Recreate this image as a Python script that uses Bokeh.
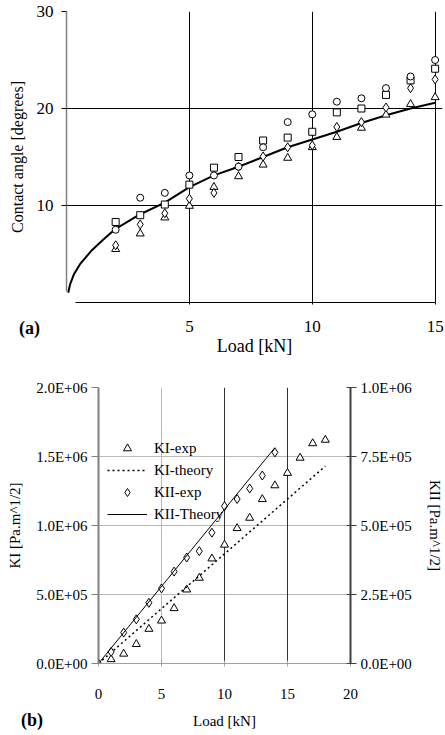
from bokeh.plotting import figure
from bokeh.models import Range1d, LinearAxis, FixedTicker, Legend, LegendItem, Grid, Div
from bokeh.embed import file_html
from bokeh.resources import INLINE

FONT = "Liberation Serif"

# ---------------- (a) contact angle data ----------------
load_a = [2, 3, 4, 5, 6, 7, 8, 9, 10, 11, 12, 13, 14, 15]
circle_a = [7.5, 10.8, 11.3, 13.1, 13.1, 14.0, 16.0, 18.6, 19.4, 20.7, 21.05, 22.1, 23.3, 25.0]
square_a = [8.3, 9.0, 10.1, 12.15, 13.9, 15.0, 16.7, 17.0, 17.6, 19.6, 20.0, 21.4, 22.9, 24.1]
diamond_a = [5.9, 8.05, 9.2, 10.7, 11.3, 14.0, 15.05, 16.0, 16.2, 18.1, 18.6, 20.1, 22.1, 23.0]
triangle_a = [5.5, 7.1, 8.75, 9.95, 11.9, 13.0, 14.2, 14.9, 16.0, 17.05, 18.0, 19.35, 20.45, 21.15]
theory_load_a = [0.07, 0.15, 0.3, 0.55, 1, 1.5, 2, 3, 4, 5, 6, 7, 8, 9, 10, 11, 12, 13, 14, 15]
theory_angle_a = [1.0, 1.9, 2.9, 3.95, 5.3, 6.5, 7.6, 9.1, 10.3, 11.9, 13.1, 14.0, 15.0, 16.0,
                  16.8, 17.6, 18.5, 19.3, 20.0, 20.6]
xticks_a = [5, 10, 15]
yticks_a = [10, 20, 30]

# ---------------- (b) stress intensity data ----------------
ki_exp_load = [1, 2, 3, 4, 5, 6, 7, 8, 9, 10, 11, 12, 13, 14, 15, 16, 17, 18]
ki_exp = [3.0e4, 7.0e4, 1.4e5, 2.5e5, 3.1e5, 4.0e5, 5.35e5, 6.2e5, 7.6e5, 8.6e5, 9.8e5,
          1.055e6, 1.19e6, 1.29e6, 1.38e6, 1.49e6, 1.595e6, 1.62e6]
ki_theory_load = [0, 18]
ki_theory = [0, 1.43e6]
kii_exp_load = [0, 1, 2, 3, 4, 5, 6, 7, 8, 9, 10, 11, 12, 13, 14]
kii_exp = [0, 4.2e4, 1.12e5, 1.6e5, 2.2e5, 2.72e5, 3.33e5, 3.84e5, 4.07e5, 4.74e5, 5.7e5,
           5.96e5, 6.34e5, 6.81e5, 7.65e5]
kii_theory_load = [0, 14]
kii_theory = [0, 7.82e5]
xticks_b = [0, 5, 10, 15, 20]
left_ticks_b = [0, 5e5, 1e6, 1.5e6, 2e6]
left_labels_b = ["0.0E+00", "5.0E+05", "1.0E+06", "1.5E+06", "2.0E+06"]
right_ticks_b = [0, 2.5e5, 5e5, 7.5e5, 1e6]
right_labels_b = ["0.0E+00", "2.5E+05", "5.0E+05", "7.5E+05", "1.0E+06"]

# ================= figure (a) =================
pa = figure(width=445, height=362, output_backend="svg", toolbar_location=None,
            x_range=Range1d(0, 15.3), y_range=Range1d(0, 30),
            min_border_left=66, min_border_right=3, min_border_top=11, min_border_bottom=60)
pa.outline_line_color = None
pa.background_fill_color = "white"
pa.border_fill_color = "white"

for ax in (pa.xaxis[0], pa.yaxis[0]):
    ax.major_label_text_font = FONT
    ax.major_label_text_font_size = "17px"
    ax.axis_label_text_font = FONT
    ax.axis_label_text_font_style = "normal"
    ax.minor_tick_line_color = None
    ax.major_tick_line_color = "black"
    ax.major_label_text_color = "black"
    ax.axis_label_text_color = "black"

pa.xaxis.ticker = FixedTicker(ticks=xticks_a)
pa.yaxis.ticker = FixedTicker(ticks=yticks_a)
pa.xaxis.axis_label = "Load [kN]"
pa.yaxis.axis_label = "Contact angle [degrees]"
pa.xaxis.axis_label_text_font_size = "18px"
pa.yaxis.axis_label_text_font_size = "16px"
pa.xaxis.axis_line_color = "black"
pa.xaxis.bounds = (0.35, 15)
pa.xaxis.major_tick_out = 2
pa.xaxis.major_tick_in = 0
pa.xaxis.major_label_standoff = 16
pa.xaxis.axis_label_standoff = 1
pa.yaxis.axis_line_color = "#808080"
pa.yaxis.axis_line_width = 1.5
pa.yaxis.bounds = (1.1, 30)
pa.yaxis.major_tick_out = 5
pa.yaxis.major_tick_in = 0
pa.yaxis.major_label_standoff = 8
pa.yaxis.axis_label_standoff = 8

pa.xgrid.ticker = FixedTicker(ticks=xticks_a)
pa.ygrid.ticker = FixedTicker(ticks=yticks_a)
pa.xgrid.bounds = (0, 30)
pa.ygrid.bounds = (0, 15)
pa.grid.grid_line_color = "black"
pa.grid.grid_line_width = 1
pa.grid.grid_line_alpha = 1

pa.line(theory_load_a, theory_angle_a, line_color="black", line_width=2)
mk = dict(line_color="black", fill_color="white", line_width=1)
pa.scatter(load_a, triangle_a, marker="triangle", size=8, **mk)
pa.scatter(load_a, diamond_a, marker="diamond", size=9, **mk)
pa.scatter(load_a, square_a, marker="square", size=7, **mk)
pa.scatter(load_a, circle_a, marker="circle", size=7, **mk)

# ================= figure (b) =================
pb = figure(width=445, height=373, output_backend="svg", toolbar_location=None,
            x_range=Range1d(0, 20), y_range=Range1d(0, 2e6),
            min_border_left=98, min_border_right=91, min_border_top=25, min_border_bottom=72)
pb.outline_line_color = None
pb.background_fill_color = "white"
pb.border_fill_color = "white"
pb.extra_y_ranges = {"right": Range1d(0, 1e6)}
right_axis = LinearAxis(y_range_name="right")
pb.add_layout(right_axis, "right")

pb.xaxis.ticker = FixedTicker(ticks=xticks_b)
pb.yaxis[0].ticker = FixedTicker(ticks=left_ticks_b)
pb.yaxis[0].major_label_overrides = dict(zip(left_ticks_b, left_labels_b))
right_axis.ticker = FixedTicker(ticks=right_ticks_b)
right_axis.major_label_overrides = dict(zip(right_ticks_b, right_labels_b))

for ax in (pb.xaxis[0], pb.yaxis[0], right_axis):
    ax.major_label_text_font = FONT
    ax.major_label_text_font_size = "15px"
    ax.axis_label_text_font = FONT
    ax.axis_label_text_font_style = "normal"
    ax.axis_label_text_font_size = "15px"
    ax.minor_tick_line_color = None
    ax.major_label_text_color = "black"
    ax.axis_label_text_color = "black"

pb.xaxis.axis_label = "Load [kN]"
pb.xaxis.axis_line_color = "#a0a0a0"
pb.xaxis.major_tick_line_color = "#a0a0a0"
pb.xaxis.major_tick_out = 3
pb.xaxis.major_tick_in = 3
pb.xaxis.major_label_standoff = 22
pb.xaxis.axis_label_standoff = 11

la = pb.yaxis[0]
la.axis_label = "KI [Pa.m^1/2]"
la.axis_line_color = "#808080"
la.axis_line_width = 2
la.major_tick_line_color = "#808080"
la.major_tick_out = 7
la.major_tick_in = 0
la.major_label_standoff = 4
la.axis_label_standoff = 10

right_axis.axis_label = "KII [Pa.m^1/2]"
right_axis.axis_line_color = "#404040"
right_axis.axis_line_width = 2
right_axis.major_tick_line_color = "#404040"
right_axis.major_tick_out = 6
right_axis.major_tick_in = 4
right_axis.major_label_standoff = 4
right_axis.axis_label_standoff = 12

pb.xgrid.ticker = FixedTicker(ticks=[5])
pb.ygrid.ticker = FixedTicker(ticks=left_ticks_b)
pb.grid.grid_line_color = "#b8b8b8"
pb.grid.grid_line_width = 1
pb.add_layout(Grid(dimension=0, ticker=FixedTicker(ticks=[10, 15]),
                   grid_line_color="#303030", grid_line_width=1))

mkb = dict(line_color="black", fill_color="white", line_width=1)
r_ki_exp = pb.scatter(ki_exp_load, ki_exp, marker="triangle", size=8, **mkb)
r_ki_th = pb.line(ki_theory_load, ki_theory, line_color="black", line_width=1.5, line_dash="2 3")
r_kii_exp = pb.scatter(kii_exp_load, kii_exp, marker="diamond", size=9, y_range_name="right", **mkb)
r_kii_th = pb.line(kii_theory_load, kii_theory, line_color="black", line_width=1, y_range_name="right")

legend = Legend(items=[
    LegendItem(label="KI-exp", renderers=[r_ki_exp]),
    LegendItem(label="KI-theory", renderers=[r_ki_th]),
    LegendItem(label="KII-exp", renderers=[r_kii_exp]),
    LegendItem(label="KII-Theory", renderers=[r_kii_th]),
], location=(9, 139), orientation="vertical")
legend.background_fill_alpha = 0
legend.border_line_color = None
legend.padding = 0
legend.margin = 0
legend.spacing = 2
legend.glyph_width = 40
legend.glyph_height = 20
legend.label_height = 20
legend.label_standoff = 7
legend.label_text_font = FONT
legend.label_text_font_size = "15px"
legend.label_text_color = "black"
pb.add_layout(legend, "center")

# panel letters as real text, placed over the page
lab_style = {"position": "absolute", "font-family": FONT, "font-size": "18px",
             "font-weight": "bold", "line-height": "20px", "color": "black", "margin": "0"}
div_a = Div(text="(a)", styles=dict(lab_style, left="19px", top="318px"))
div_b = Div(text="(b)", styles=dict(lab_style, left="21px", top="710px"))

open("out.html", "w").write(file_html([pa, pb, div_a, div_b], INLINE))
